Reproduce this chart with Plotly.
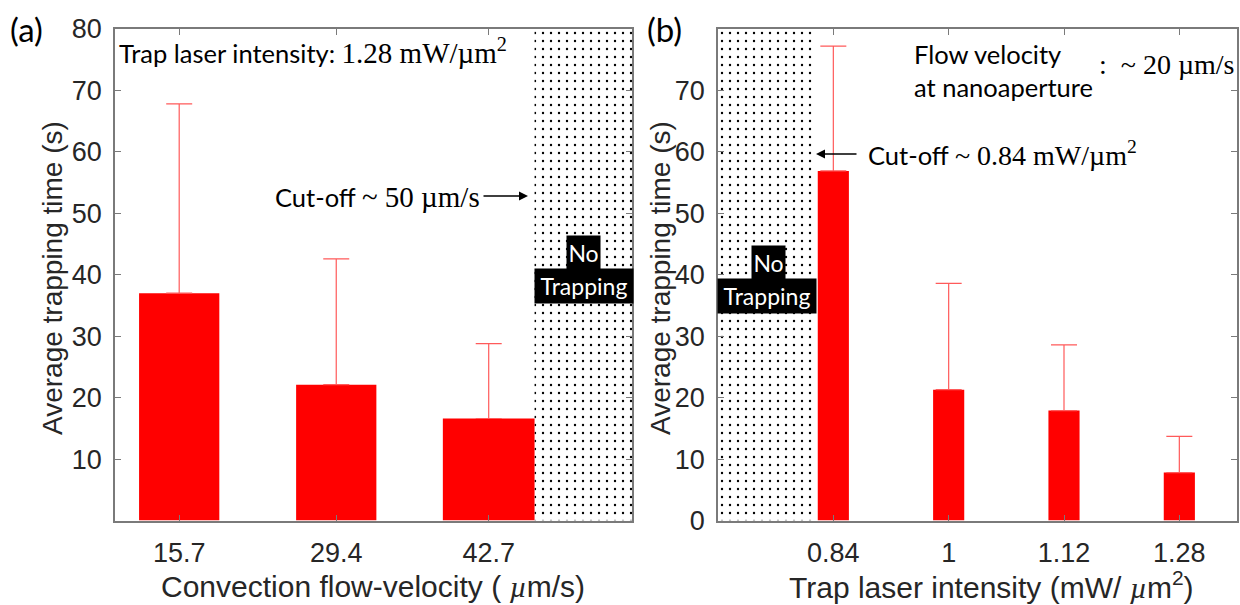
import plotly.graph_objects as go

# ---------------- data ----------------
# panel (a)
flow_velocity = [15.7, 29.4, 42.7]
flow_time_mean = [37.0, 22.1, 16.6]
flow_time_upper = [67.8, 42.6, 28.8]
flow_bar_width = [7.0, 7.0, 8.0]
flow_no_trap_region = [46.7, 55.2]
flow_yticks = [10, 20, 30, 40, 50, 60, 70, 80]

# panel (b)
intensity_labels = ["0.84", "1", "1.12", "1.28"]
intensity_time_mean = [56.9, 21.3, 17.9, 7.8]
intensity_time_upper = [77.2, 38.6, 28.6, 13.7]
intensity_no_trap_region = [0.0, 0.85]
intensity_yticks = [0, 10, 20, 30, 40, 50, 60, 70]

W, H = 1240, 605
SANS = "Liberation Sans"
HUM = "Lato"
SERIF = "Liberation Serif"
TXT = "#262626"
AX = "#7a7a7a"
RED = "#ff0000"
ERR = "#ff5a5a"


def px(x):
    return x / W


def py(y):
    return 1 - y / H


fig = go.Figure()

dots = dict(shape=".", fgcolor="black", bgcolor="white", size=8, solidity=0.07, fgopacity=1)

# --- panel (a) ---
fig.add_trace(go.Bar(
    x=[(flow_no_trap_region[0] + flow_no_trap_region[1]) / 2],
    y=[80], width=[flow_no_trap_region[1] - flow_no_trap_region[0]],
    marker=dict(color="white", line=dict(width=0), pattern=dots),
    xaxis="x", yaxis="y", showlegend=False, hoverinfo="skip"))

fig.add_trace(go.Bar(
    x=flow_velocity, y=flow_time_mean, width=flow_bar_width,
    marker=dict(color=RED, line=dict(width=0)),
    error_y=dict(type="data", symmetric=False,
                 array=[u - m for u, m in zip(flow_time_upper, flow_time_mean)],
                 arrayminus=[0] * len(flow_time_mean),
                 color=ERR, thickness=1.2, width=13),
    xaxis="x", yaxis="y", showlegend=False))

# --- panel (b) ---
pos_b = list(range(1, len(intensity_labels) + 1))
fig.add_trace(go.Bar(
    x=[(intensity_no_trap_region[0] + intensity_no_trap_region[1]) / 2],
    y=[80], width=[intensity_no_trap_region[1] - intensity_no_trap_region[0]],
    marker=dict(color="white", line=dict(width=0), pattern=dots),
    xaxis="x2", yaxis="y2", showlegend=False, hoverinfo="skip"))

fig.add_trace(go.Bar(
    x=pos_b, y=intensity_time_mean, width=0.27,
    marker=dict(color=RED, line=dict(width=0)),
    error_y=dict(type="data", symmetric=False,
                 array=[u - m for u, m in zip(intensity_time_upper, intensity_time_mean)],
                 arrayminus=[0] * len(intensity_time_mean),
                 color=ERR, thickness=1.2, width=13),
    xaxis="x2", yaxis="y2", showlegend=False))

axis_common = dict(showline=True, linecolor=AX, linewidth=1.5, mirror="ticks",
                   ticks="inside", ticklen=6, tickcolor=AX, tickwidth=1,
                   showgrid=False, zeroline=False, automargin=False,
                   tickfont=dict(family=SANS, size=27, color=TXT))

fig.update_layout(
    width=W, height=H, autosize=False,
    margin=dict(l=0, r=0, t=0, b=0, pad=0),
    paper_bgcolor="white", plot_bgcolor="white",
    barmode="overlay",
    xaxis=dict(domain=[px(115), px(632)], range=[10.1, 55.2],
               tickvals=flow_velocity, ticktext=[str(v) for v in flow_velocity],
               anchor="y", ticklabelstandoff=7, **axis_common),
    yaxis=dict(domain=[py(520.5), py(29)], range=[0, 80],
               tickvals=flow_yticks, anchor="x", ticklabelstandoff=6, **axis_common),
    xaxis2=dict(domain=[px(718), px(1237)], range=[0, 4.5],
                tickvals=pos_b, ticktext=intensity_labels,
                anchor="y2", ticklabelstandoff=7, **axis_common),
    yaxis2=dict(domain=[py(520.5), py(29)], range=[0, 80],
                tickvals=intensity_yticks, anchor="x2", ticklabelstandoff=6, **axis_common),
)

ann = []


def text(x, y, t, family=HUM, size=25.5, color="black", xanchor="left", yanchor="middle", **kw):
    ann.append(dict(x=px(x), y=py(y), xref="paper", yref="paper", text=t,
                    showarrow=False, xanchor=xanchor, yanchor=yanchor,
                    font=dict(family=family, size=size, color=color), **kw))


def serif(t, size=29):
    return '<span style="font-family:%s;font-size:%dpx">%s</span>' % (SERIF, size, t)


# panel labels
text(8, 29, "(a)", size=33)
text(645, 29, "(b)", size=33)

# axis titles
text(52, 278, "Average trapping time (s)", family=SANS, size=28, color=TXT,
     xanchor="center", textangle=-90)
text(660, 278, "Average trapping time (s)", family=SANS, size=28, color=TXT,
     xanchor="center", textangle=-90)
text(373, 586, "Convection flow-velocity ( " + serif("<i>µ</i>", 30) + "m/s)",
     family=SANS, size=30, color=TXT, xanchor="center")
text(991, 585, "Trap laser intensity (mW/ " + serif("<i>µ</i>", 30) + "m<sup>2</sup>)",
     family=SANS, size=30, color=TXT, xanchor="center")

# panel (a) notes
text(117, 51, "Trap laser intensity: " + serif("1.28 mW/µm<sup>2</sup>"))
text(273, 197, "Cut-off " + serif("~ 50 µm/s"))
ann.append(dict(x=px(528), y=py(196), xref="paper", yref="paper", text="",
                showarrow=True, ax=-46, ay=0, arrowhead=2, arrowsize=1.2,
                arrowwidth=1.5, arrowcolor="black"))

# panel (b) notes
text(912, 70, "Flow velocity<br>at nanoaperture", align="left")
text(1097, 65, serif(":  ~ 20 µm/s", 28))
text(866, 154, "Cut-off " + serif("~ 0.84 mW/µm<sup>2</sup>", 28))
ann.append(dict(x=px(816), y=py(154), xref="paper", yref="paper", text="",
                showarrow=True, ax=42, ay=0, arrowhead=2, arrowsize=1.2,
                arrowwidth=1.5, arrowcolor="black"))

# No Trapping boxes
for cx_no, cy_no, cx_tr, cy_tr in [(583.5, 252.5, 584, 286), (768, 262.5, 767, 296)]:
    text(cx_no, cy_no, "No", size=23, color="white", xanchor="center",
         bgcolor="black", borderpad=2, width=29, height=29)
    text(cx_tr, cy_tr, "Trapping", size=23, color="white", xanchor="center",
         bgcolor="black", borderpad=2, width=94, height=30)

fig.update_layout(annotations=ann)

fig.write_html("out.html", config={"displayModeBar": False},
               post_script="document.body.style.margin='0';")
